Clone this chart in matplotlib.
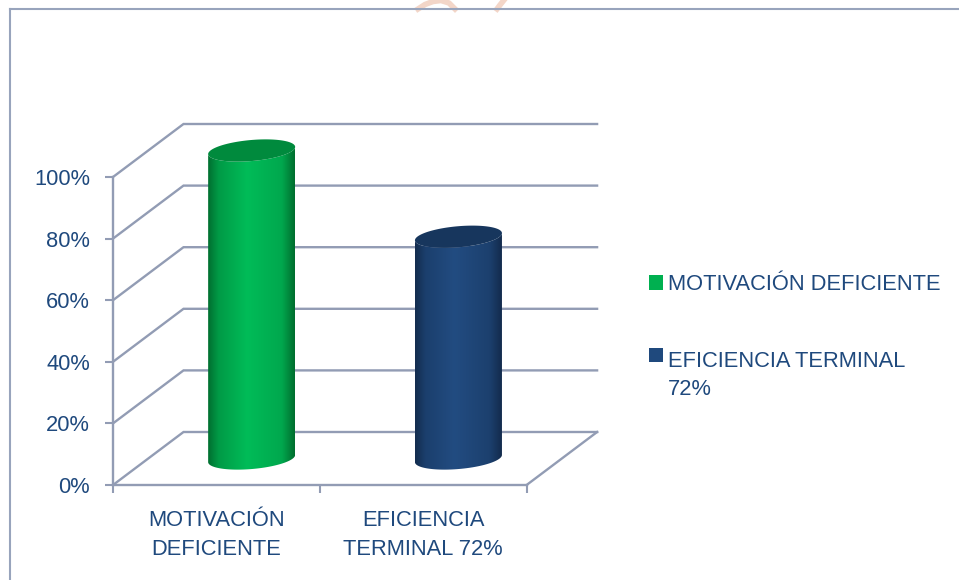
import numpy as np
import matplotlib
matplotlib.use("Agg")
import matplotlib.pyplot as plt
from matplotlib.colors import LinearSegmentedColormap
from matplotlib.legend_handler import HandlerPatch
from matplotlib.patches import Patch, PathPatch, Rectangle
from matplotlib.path import Path
from matplotlib.transforms import Affine2D, IdentityTransform

categories = ["MOTIVACIÓN\nDEFICIENTE", "EFICIENCIA\nTERMINAL 72%"]
legend_labels = ["MOTIVACIÓN DEFICIENTE", "EFICIENCIA TERMINAL\n72%"]
values = [100, 72]
y_ticks = [0, 20, 40, 60, 80, 100]
y_tick_labels = ["0%", "20%", "40%", "60%", "80%", "100%"]

W, H = 959, 580
TEXT = "#1F497D"
GRID = "#929CB4"
FS = 15.75
plt.rcParams["font.family"] = ["Liberation Sans", "DejaVu Sans"]

fig = plt.figure(figsize=(W / 100, H / 100), dpi=100, facecolor="white")
L, R, T, B = 113, 526.6, 177, 485
ax = fig.add_axes([L / W, 1 - B / H, (R - L) / W, (B - T) / H])
ax.set_xlim(0, 2)
ax.set_ylim(0, 100)
ax.patch.set_visible(False)

# Outer frame and watermark remnants
for xs, ys in [((418, 425, 433, 441, 449, 455), (9, 4.5, 1.5, 0.5, 3, 9)),
               ((497, 500, 504), (9, 5, 0))]:
    fig.add_artist(plt.Line2D(np.array(xs) / W, 1 - np.array(ys) / H,
                              transform=fig.transFigure, color="#F3D6C8", lw=4))
for xs, ys in [((9.5, 9.5), (9, 580)), ((9.5, 959), (9, 9))]:
    fig.add_artist(plt.Line2D(np.array(xs) / W, 1 - np.array(ys) / H,
                              transform=fig.transFigure, color="#98A4BC", lw=1.5))

# 3D walls: depth is a pixel offset in display space
DX, DY = 70.5, 53
back = ax.transData + Affine2D().translate(DX, DY)
for t in y_ticks:
    p0 = ax.transData.transform((0, t))
    p1 = back.transform((0, t))
    p2 = back.transform((2, t))
    ax.add_line(plt.Line2D([p0[0], p1[0], p2[0]], [p0[1], p1[1], p2[1]],
                           transform=IdentityTransform(), color=GRID, lw=1.7,
                           clip_on=False, zorder=1, solid_joinstyle="miter",
                           solid_capstyle="projecting"))
p0 = ax.transData.transform((2, 0))
p1 = back.transform((2, 0))
ax.add_line(plt.Line2D([p0[0], p1[0]], [p0[1], p1[1]], transform=IdentityTransform(),
                       color=GRID, lw=1.7, clip_on=False, zorder=1))

# Cylinders
bar_w = 87.0
tilt = np.deg2rad(5.0)
ry = 10.5
theta = np.linspace(0, 2 * np.pi, 121)


def ellipse(cx, cy, half=False):
    t = np.linspace(np.pi, 2 * np.pi, 61) if half else theta
    ex = (bar_w / 2) * np.cos(t) / np.cos(tilt)
    ey = ry * np.sin(t)
    return (cx + ex * np.cos(tilt) - ey * np.sin(tilt),
            cy + ex * np.sin(tilt) + ey * np.cos(tilt))


styles = [
    (["#006F30", "#009A46", "#00BC58", "#00A84E", "#006E2E"], "#008A3D", "#00B050"),
    (["#132C4E", "#1B3F6D", "#224C81", "#1C406E", "#12294A"], "#17365D", "#1F497D"),
]
for i, (v, (stops, top_c, _)) in enumerate(zip(values, styles)):
    cx0, base = ax.transData.transform((i + 0.5, 0))
    _, top = ax.transData.transform((i + 0.5, v))
    cx, cy_b, cy_t = cx0 + DX / 2, base + DY / 2, top + DY / 2
    bx, by = ellipse(cx, cy_b, half=True)
    tx, ty = ellipse(cx, cy_t, half=True)
    xs = np.r_[bx, tx[::-1]]
    ys = np.r_[by, ty[::-1]]
    body = Path(np.c_[xs, ys])
    clip = PathPatch(body, transform=IdentityTransform(), fc="none", ec="none")
    ax.add_patch(clip)
    clip.set_clip_on(False)
    cmap = LinearSegmentedColormap.from_list("c", list(zip([0, .12, .45, .85, 1], stops)))
    inv = ax.transData.inverted()
    (x0, y0), (x1, y1) = inv.transform([(xs.min(), ys.min()), (xs.max(), ys.max())])
    im = ax.imshow(np.linspace(0, 1, 256)[None, :], cmap=cmap, extent=[x0, x1, y0, y1],
                   aspect="auto", zorder=3, interpolation="bilinear")
    im.set_clip_box(fig.bbox)
    im.set_clip_path(clip)
    ex, ey = ellipse(cx, cy_t)
    ax.add_patch(PathPatch(Path(np.c_[ex, ey]), transform=IdentityTransform(), fc=top_c,
                           ec="none", zorder=4, clip_on=False))
ax.set_xlim(0, 2)
ax.set_ylim(0, 100)

# Axes
for s in ["top", "right"]:
    ax.spines[s].set_visible(False)
for s in ["left", "bottom"]:
    ax.spines[s].set_color(GRID)
    ax.spines[s].set_linewidth(1.7)
ax.set_yticks(y_ticks, y_tick_labels, color=TEXT, fontsize=FS)
ax.tick_params(axis="y", length=5.5, width=1.5, color=GRID, pad=11)
ax.set_xticks([0, 1, 2], ["", "", ""])
ax.tick_params(axis="x", which="major", length=5.5, width=1.5, color=GRID)
ax.set_xticks([0.5, 1.5], categories, minor=True, color=TEXT, fontsize=FS, linespacing=1.5)
ax.tick_params(axis="x", which="minor", length=0, pad=18)


def swatch(shift):
    def make(legend, orig_handle, xdescent, ydescent, width, height, fontsize):
        return Rectangle((-xdescent, -ydescent + shift), width, height)
    return make


handles = [Patch(fc=styles[0][2], ec="none"), Patch(fc=styles[1][2], ec="none")]
leg = fig.legend(handles, legend_labels, loc="upper left", bbox_to_anchor=(649 / W, 1 - 274 / H),
                 bbox_transform=fig.transFigure, frameon=False, prop={"size": FS},
                 labelcolor=TEXT, handlelength=0.64, handleheight=0.64, handletextpad=0.22,
                 labelspacing=2.55, borderpad=0, borderaxespad=0, alignment="left",
                 handler_map={handles[0]: HandlerPatch(patch_func=swatch(0)),
                              handles[1]: HandlerPatch(patch_func=swatch(15))})
for txt in leg.get_texts():
    txt.set_linespacing(1.48)

fig.savefig("out.png", dpi=100, facecolor="white")
